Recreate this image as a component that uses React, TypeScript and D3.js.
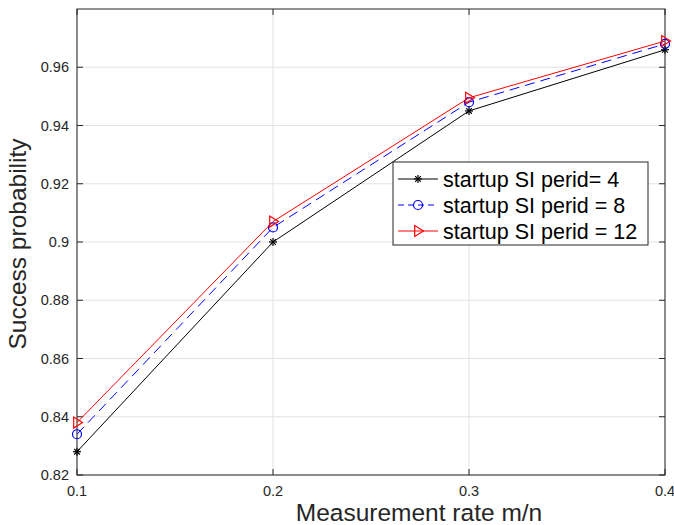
import React, { useEffect, useRef } from "react";
import * as d3 from "d3";

const rates = [0.1, 0.2, 0.3, 0.4];
const period4 = [0.828, 0.9, 0.945, 0.966];
const period8 = [0.834, 0.905, 0.948, 0.968];
const period12 = [0.838, 0.907, 0.9495, 0.969];
const xTicks = [0.1, 0.2, 0.3, 0.4];
const yTicks = [0.82, 0.84, 0.86, 0.88, 0.9, 0.92, 0.94, 0.96];
const seriesNames = ["startup SI perid= 4", "startup SI perid = 8", "startup SI perid = 12"];

export default function App() {
  const svgRef = useRef<SVGSVGElement>(null);

  useEffect(() => {
    if (!svgRef.current) return;
    const svg = d3.select(svgRef.current);
    svg.selectAll("*").remove();

    const width = 674;
    const height = 525;
    const margin = { top: 9, right: 9, bottom: 50, left: 77 };
    const innerW = width - margin.left - margin.right;
    const innerH = height - margin.top - margin.bottom;
    const font = "'Liberation Sans', Arial, sans-serif";
    const axisColor = "#262626";

    const x = d3.scaleLinear().domain([0.1, 0.4]).range([0, innerW]);
    const y = d3.scaleLinear().domain([0.82, 0.98]).range([innerH, 0]);

    const g = svg.append("g").attr("transform", `translate(${margin.left},${margin.top})`);

    // grid
    g.selectAll(".gx")
      .data(xTicks)
      .enter()
      .append("line")
      .attr("x1", (d) => x(d))
      .attr("x2", (d) => x(d))
      .attr("y1", 0)
      .attr("y2", innerH)
      .attr("stroke", "#e3e3e3");
    g.selectAll(".gy")
      .data(yTicks)
      .enter()
      .append("line")
      .attr("x1", 0)
      .attr("x2", innerW)
      .attr("y1", (d) => y(d))
      .attr("y2", (d) => y(d))
      .attr("stroke", "#e3e3e3");

    const tick = 6;
    // tick marks (inward, all four sides)
    xTicks.forEach((t) => {
      g.append("line").attr("x1", x(t)).attr("x2", x(t)).attr("y1", innerH).attr("y2", innerH - tick).attr("stroke", axisColor);
      g.append("line").attr("x1", x(t)).attr("x2", x(t)).attr("y1", 0).attr("y2", tick).attr("stroke", axisColor);
      g.append("text")
        .attr("x", x(t))
        .attr("y", innerH + 21)
        .attr("text-anchor", "middle")
        .attr("font-family", font)
        .attr("font-size", 14.5)
        .attr("fill", axisColor)
        .text(d3.format(".1f")(t));
    });
    yTicks.forEach((t) => {
      g.append("line").attr("x1", 0).attr("x2", tick).attr("y1", y(t)).attr("y2", y(t)).attr("stroke", axisColor);
      g.append("line").attr("x1", innerW).attr("x2", innerW - tick).attr("y1", y(t)).attr("y2", y(t)).attr("stroke", axisColor);
      g.append("text")
        .attr("x", -8)
        .attr("y", y(t))
        .attr("dy", "0.35em")
        .attr("text-anchor", "end")
        .attr("font-family", font)
        .attr("font-size", 14.5)
        .attr("fill", axisColor)
        .text(d3.format("")(t));
    });

    // box
    g.append("rect")
      .attr("width", innerW)
      .attr("height", innerH)
      .attr("fill", "none")
      .attr("stroke", axisColor)
      .attr("stroke-width", 1);

    const line = d3
      .line<number>()
      .x((_, i) => x(rates[i]))
      .y((d) => y(d));

    const drawStar = (sel: any, cx: number, cy: number) => {
      const r = 4;
      const s = sel.append("g").attr("transform", `translate(${cx},${cy})`);
      [0, 45, 90, 135].forEach((a) => {
        const rad = (a * Math.PI) / 180;
        s.append("line")
          .attr("x1", -r * Math.cos(rad))
          .attr("y1", -r * Math.sin(rad))
          .attr("x2", r * Math.cos(rad))
          .attr("y2", r * Math.sin(rad))
          .attr("stroke", "#000")
          .attr("stroke-width", 1.2);
      });
    };
    const drawCircle = (sel: any, cx: number, cy: number) => {
      sel.append("circle").attr("cx", cx).attr("cy", cy).attr("r", 4.5).attr("fill", "none").attr("stroke", "#0000ff").attr("stroke-width", 1.2);
    };
    const drawTri = (sel: any, cx: number, cy: number) => {
      const r = 5.5;
      sel.append("path")
        .attr("d", `M${cx + r},${cy} L${cx - r * 0.6},${cy - r} L${cx - r * 0.6},${cy + r} Z`)
        .attr("fill", "none")
        .attr("stroke", "#ff0000")
        .attr("stroke-width", 1.2);
    };

    const series = [
      { values: period4, color: "#000000", dash: null, marker: drawStar },
      { values: period8, color: "#0000ff", dash: "10,6", marker: drawCircle },
      { values: period12, color: "#ff0000", dash: null, marker: drawTri },
    ];

    series.forEach((s) => {
      g.append("path")
        .datum(s.values)
        .attr("d", line)
        .attr("fill", "none")
        .attr("stroke", s.color)
        .attr("stroke-width", 1)
        .attr("stroke-dasharray", s.dash);
      s.values.forEach((v, i) => s.marker(g, x(rates[i]), y(v)));
    });

    // legend
    const lg = svg.append("g").attr("transform", "translate(393,162)");
    lg.append("rect").attr("width", 255).attr("height", 83).attr("fill", "#fff").attr("stroke", axisColor);
    series.forEach((s, i) => {
      const cy = 17 + i * 26;
      lg.append("line")
        .attr("x1", 5)
        .attr("x2", 45)
        .attr("y1", cy)
        .attr("y2", cy)
        .attr("stroke", s.color)
        .attr("stroke-dasharray", s.dash ? "6,4" : null);
      s.marker(lg, 25, cy);
      lg.append("text")
        .attr("x", 50)
        .attr("y", cy)
        .attr("dy", "0.35em")
        .attr("font-family", font)
        .attr("font-size", 21.5)
        .attr("fill", "#000")
        .text(seriesNames[i]);
    });

    // axis labels
    svg.append("text")
      .attr("x", 419)
      .attr("y", 521)
      .attr("text-anchor", "middle")
      .attr("font-family", font)
      .attr("font-size", 24.5)
      .attr("fill", axisColor)
      .text("Measurement rate m/n");
    svg.append("text")
      .attr("transform", `translate(26,244) rotate(-90)`)
      .attr("text-anchor", "middle")
      .attr("font-family", font)
      .attr("font-size", 24.5)
      .attr("fill", axisColor)
      .text("Success probability");
  }, []);

  return (
    <svg
      ref={svgRef}
      width={674}
      height={525}
      style={{ position: "absolute", left: 0, top: 0, display: "block", background: "#fff" }}
    />
  );
}
